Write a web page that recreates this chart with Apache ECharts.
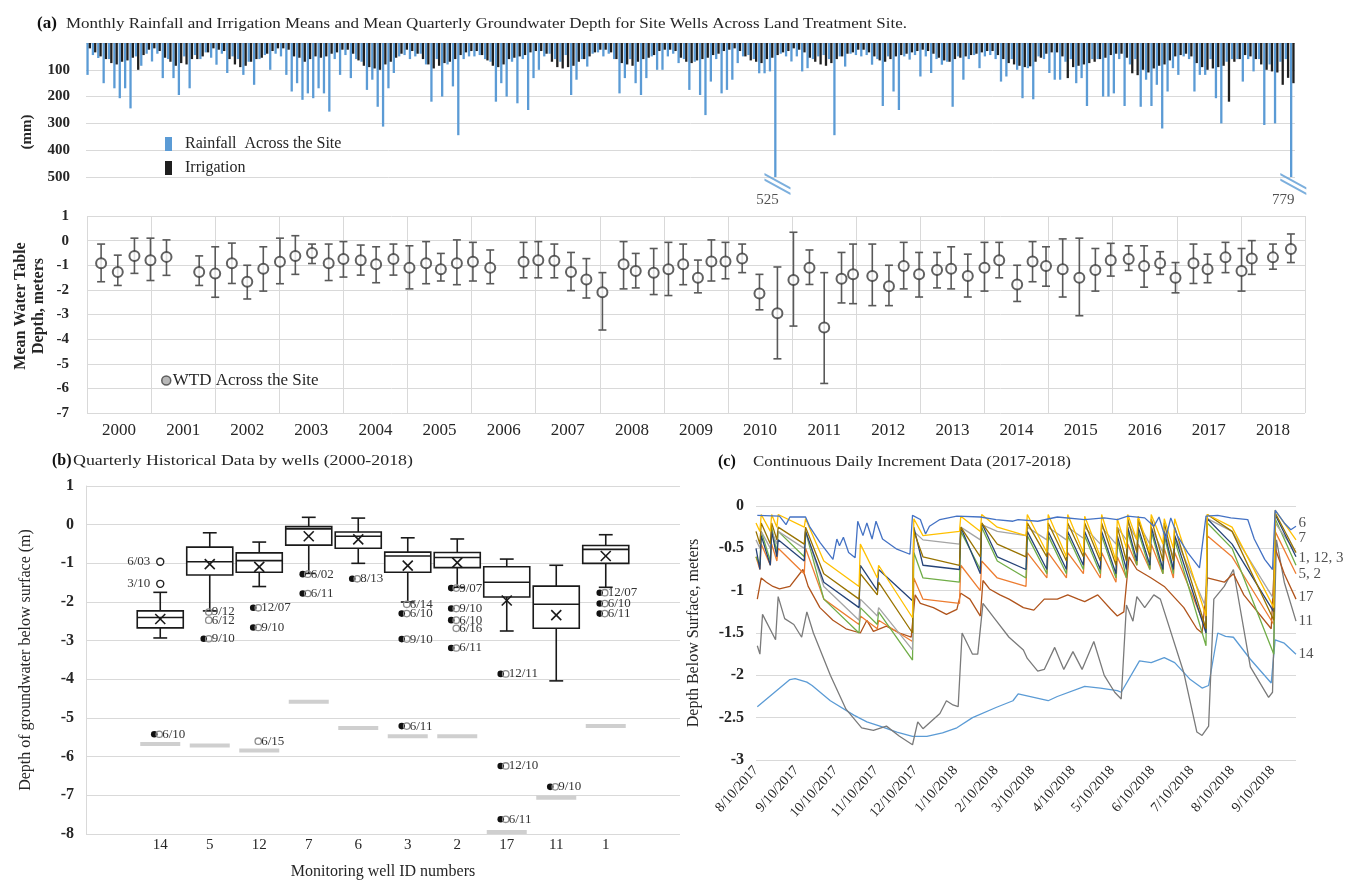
<!DOCTYPE html>
<html><head><meta charset="utf-8">
<script src="https://cdn.jsdelivr.net/npm/echarts@6/dist/echarts.min.js"></script>
<style>html,body{margin:0;padding:0;background:#fff}#c{width:1363px;height:881px}</style>
</head><body><div id="c"></div><script>
// ================= DATA =================
// (a) monthly rainfall (mm), Jan..Dec per year (2018 ends in Sep)
const rain2000 = [119,45,56,150,60,169,206,169,244,50,85,40];
const rain2001 = [69,40,131,60,131,194,50,169,45,60,35,55];
const rain2002 = [81,40,112,50,60,119,70,156,60,45,100,40];
const rain2003 = [50,119,181,150,212,188,206,169,188,256,60,119];
const rain2004 = [45,131,60,70,175,137,238,312,169,112,50,45];
const rain2005 = [60,50,40,80,219,60,200,80,162,344,60,50];
const rain2006 = [50,45,60,70,219,150,200,70,225,60,250,131];
const rain2007 = [100,50,40,60,70,45,194,137,60,88,40,35];
const rain2008 = [50,40,60,188,131,60,150,194,131,50,100,100];
const rain2009 = [50,40,75,60,175,70,194,269,144,60,188,175];
const rain2010 = [137,75,50,45,60,113,113,106,525,40,50,69];
const rain2011 = [50,106,94,60,50,45,60,344,50,88,40,45];
const rain2012 = [50,45,81,60,235,50,181,250,50,62,45,125];
const rain2013 = [50,112,60,81,70,238,50,137,60,45,94,50];
const rain2014 = [45,60,144,125,60,100,206,94,210,50,60,112];
const rain2015 = [137,137,70,60,150,131,235,60,60,200,200,188];
const rain2016 = [60,235,80,60,238,137,235,156,319,181,94,119];
const rain2017 = [50,60,181,119,119,60,206,300,70,60,60,144];
const rain2018 = [60,106,60,306,80,300,70,60,779];
// monthly irrigation (mm)
const irr2000 = [20,35,50,60,75,80,70,65,55,100,45,25];
const irr2001 = [20,30,55,70,85,75,80,60,60,50,35,20];
const irr2002 = [25,30,60,80,90,85,70,60,55,40,30,20];
const irr2003 = [20,25,50,55,70,60,50,55,50,40,35,25];
const irr2004 = [25,40,65,85,90,95,100,80,70,55,40,25];
const irr2005 = [30,40,60,80,95,85,75,70,60,45,35,30];
const irr2006 = [30,45,65,85,90,80,60,55,50,45,35,30];
const irr2007 = [30,40,70,90,95,90,85,70,60,50,35,25];
const irr2008 = [25,35,60,75,80,85,70,60,55,45,30,25];
const irr2009 = [25,30,55,70,75,65,60,55,45,40,30,25];
const irr2010 = [20,30,50,65,70,75,60,55,45,35,30,20];
const irr2011 = [25,35,55,70,80,85,75,60,50,40,35,25];
const irr2012 = [25,35,50,65,70,60,50,45,40,35,30,25];
const irr2013 = [30,40,55,65,70,60,55,50,45,40,35,30];
const irr2014 = [30,45,60,75,80,85,90,87,70,55,40,35];
const irr2015 = [35,50,131,90,85,80,75,70,60,55,45,40];
const irr2016 = [40,55,113,120,100,110,95,85,80,65,50,45];
const irr2017 = [40,50,75,90,100,95,90,85,219,70,60,45];
const irr2018 = [50,60,80,100,106,110,156,130,150];
const yearList = [2000,2001,2002,2003,2004,2005,2006,2007,2008,2009,2010,2011,2012,2013,2014,2015,2016,2017,2018];
const barTicks = [100,200,300,400,500];

// (a) quarterly mean water-table depth (m): sample time (decimal year), mean, whisker low, whisker high
const wtdDate = [2000.22,2000.48,2000.74,2000.99,2001.24,2001.75,2002.00,2002.26,2002.50,2002.75,2003.01,2003.25,2003.51,2003.77,2004.00,2004.27,2004.51,2004.78,2005.03,2005.29,2005.52,2005.77,2006.02,2006.29,2006.81,2007.04,2007.29,2007.55,2007.79,2008.04,2008.37,2008.56,2008.84,2009.07,2009.30,2009.53,2009.74,2009.96,2010.22,2010.49,2010.77,2011.02,2011.27,2011.50,2011.77,2011.95,2012.25,2012.51,2012.74,2012.98,2013.26,2013.48,2013.74,2014.00,2014.23,2014.51,2014.75,2014.96,2015.22,2015.48,2015.73,2015.97,2016.25,2016.49,2016.74,2016.98,2017.26,2017.48,2017.76,2018.01,2018.17,2018.50,2018.78];
const wtdMean = [-0.92,-1.27,-0.62,-0.80,-0.66,-1.27,-1.34,-0.92,-1.67,-1.14,-0.86,-0.62,-0.50,-0.92,-0.75,-0.80,-0.96,-0.75,-1.10,-0.92,-1.16,-0.92,-0.86,-1.10,-0.86,-0.80,-0.82,-1.27,-1.58,-2.10,-0.96,-1.23,-1.30,-1.16,-0.96,-1.51,-0.85,-0.85,-0.73,-2.15,-2.95,-1.60,-1.10,-3.53,-1.55,-1.37,-1.44,-1.85,-1.03,-1.37,-1.19,-1.14,-1.44,-1.10,-0.80,-1.78,-0.85,-1.03,-1.16,-1.51,-1.19,-0.80,-0.75,-1.03,-0.92,-1.51,-0.92,-1.16,-0.68,-1.23,-0.73,-0.68,-0.34];
const wtdLow = [-1.67,-1.82,-1.33,-1.62,-1.41,-1.82,-2.30,-1.74,-2.37,-2.05,-1.75,-1.37,-0.93,-1.62,-1.48,-1.40,-1.71,-1.40,-1.96,-1.75,-1.64,-1.79,-1.64,-1.75,-1.51,-1.51,-1.51,-2.03,-2.33,-3.63,-1.96,-1.92,-2.19,-2.23,-1.79,-2.12,-1.64,-1.55,-1.30,-2.81,-4.80,-3.47,-1.78,-5.80,-2.53,-2.56,-2.64,-2.64,-1.96,-2.29,-1.92,-1.96,-2.29,-2.05,-1.51,-2.47,-1.67,-1.85,-2.29,-3.05,-2.05,-1.44,-1.21,-1.89,-1.37,-2.12,-1.74,-1.71,-1.30,-2.05,-1.37,-1.16,-0.89];
const wtdHigh = [-0.14,-0.59,0.10,0.10,0.03,-0.62,-0.25,-0.10,-1.00,-0.25,0.10,0.20,-0.14,-0.14,-0.04,-0.18,-0.25,-0.14,-0.21,-0.04,-0.52,0.03,-0.07,-0.38,-0.07,-0.04,-0.14,-0.48,-0.73,-1.30,-0.04,-0.52,-0.32,-0.07,-0.14,-0.79,0.03,-0.07,-0.14,-1.37,-1.07,0.34,-0.38,-1.30,-0.48,-0.14,-0.14,-1.00,-0.07,-0.48,-0.48,-0.25,-0.55,-0.07,-0.07,-1.00,-0.04,-0.25,0.07,0.10,-0.32,-0.11,-0.21,-0.21,-0.45,-0.89,-0.14,-0.55,-0.07,-0.32,0.00,-0.14,0.27];

// (b) box plots per monitoring well (depth, m)
const wellIds = ['14','5','12','7','6','3','2','17','11','1'];
const boxWhiskerHigh = [-1.75,-0.21,-0.45,0.19,0.17,-0.34,-0.37,-0.89,-1.05,-0.26];
const boxQ3 = [-2.23,-0.58,-0.73,-0.05,-0.19,-0.71,-0.72,-1.09,-1.59,-0.54];
const boxMedian = [-2.40,-0.96,-0.93,-0.11,-0.30,-0.81,-0.85,-1.49,-2.06,-0.64];
const boxQ1 = [-2.67,-1.30,-1.23,-0.53,-0.61,-1.23,-1.11,-1.87,-2.68,-1.00];
const boxWhiskerLow = [-2.93,-2.23,-1.60,-1.26,-1.00,-2.00,-1.62,-2.75,-4.04,-1.62];
const boxMean = [-2.44,-1.02,-1.09,-0.30,-0.38,-1.06,-0.98,-1.96,-2.34,-0.81];
const wellBottomDepth = [-5.67,-5.71,-5.84,-4.58,-5.26,-5.47,-5.47,-7.95,-7.06,-5.21];
// outliers: well id, depth, date label, marker kind
const outlierWell = ['14','14','14','5','5','5','12','12','12','7','7','6','3','3','3','3','2','2','2','2','2','17','17','17','11','1','1','1'];
const outlierDepth = [-0.96,-1.53,-5.42,-2.26,-2.47,-2.95,-2.15,-2.66,-5.60,-1.28,-1.78,-1.40,-2.06,-2.30,-2.96,-5.21,-1.64,-2.17,-2.47,-2.68,-3.19,-3.86,-6.24,-7.62,-6.78,-1.76,-2.04,-2.30];
const outlierLabel = ['6/03','3/10','6/10','9/12','6/12','9/10','12/07','9/10','6/15','6/02','6/11','8/13','6/14','6/10','9/10','6/11','9/07','9/10','6/10','6/16','6/11','12/11','12/10','6/11','9/10','12/07','6/10','6/11'];
const outlierKind = ['open','open','dot','gray','gray','dot','dot','dot','gray','dot','dot','dot','gray','dot','dot','dot','dot','dot','dot','gray','dot','dot','dot','dot','dot','dot','dot','dot'];

// (c) daily logger data, days since 8/10/2017 and depth (m)
const tickDates = ['8/10/2017','9/10/2017','10/10/2017','11/10/2017','12/10/2017','1/10/2018','2/10/2018','3/10/2018','4/10/2018','5/10/2018','6/10/2018','7/10/2018','8/10/2018','9/10/2018'];
const well6Days = [1,18,23,26,38,41,49,59,62,64,67,71,76,78,82,85,89,92,97,108,118,120,126,130,133,141,154,172,184,197,201,216,231,252,267,277,285,298,305,309,314,318,323,331,340,345,354,364,377,382,390,396,398,405,410,414];
const well6Depth = [-0.11,-0.12,-0.22,-0.13,-0.13,-0.24,-0.43,-0.63,-0.39,-0.47,-0.37,-0.55,-0.61,-0.18,-0.35,-0.2,-0.39,-0.18,-0.39,-0.51,-0.57,-0.11,-0.16,-0.33,-0.24,-0.16,-0.12,-0.13,-0.16,-0.18,-0.16,-0.18,-0.13,-0.16,-0.14,-0.16,-0.12,-0.14,-0.24,-0.13,-0.39,-0.14,-0.35,-0.55,-0.73,-0.12,-0.11,-0.14,-0.16,-0.39,-0.63,-0.75,-0.05,-0.2,-0.28,-0.24];
const well14Days = [1,26,30,39,43,57,75,85,95,108,120,131,143,154,166,184,197,201,224,231,252,264,277,280,294,303,313,321,333,342,347,354,360,366,379,395,398,405,414];
const well14Depth = [-2.37,-2.05,-2.04,-2.08,-2.12,-2.3,-2.47,-2.55,-2.6,-2.67,-2.72,-2.72,-2.68,-2.62,-2.5,-2.38,-2.3,-2.22,-2.3,-2.25,-2.13,-2.15,-2.18,-2.2,-1.83,-1.85,-1.79,-1.85,-2.05,-2.15,-2.12,-1.5,-1.54,-1.55,-1.81,-2.09,-1.58,-1.62,-1.75];
const well11Days = [1,3,5,15,17,22,29,35,39,44,57,69,81,90,100,110,120,124,128,141,146,151,155,158,166,170,174,184,194,205,208,216,221,229,236,243,250,259,267,275,280,284,289,292,298,305,310,328,338,342,347,351,359,366,379,393,396,399,405,414];
const well11Depth = [-1.65,-1.75,-1.28,-1.58,-1.07,-1.33,-1.4,-1.55,-1.25,-1.5,-2.0,-2.4,-2.62,-2.65,-2.6,-2.72,-2.82,-2.55,-2.63,-2.45,-2.3,-2.35,-2.37,-1.5,-1.75,-1.75,-1.15,-1.35,-1.55,-1.7,-1.8,-1.95,-1.93,-1.67,-1.93,-1.72,-1.93,-1.6,-2.0,-2.2,-2.28,-1.17,-1.36,-1.07,-1.2,-1.05,-1.1,-1.97,-2.67,-2.71,-2.6,-1.1,-0.95,-0.75,-1.9,-2.26,-2.2,-0.4,-0.9,-1.36];
const well17Days = [1,4,8,13,18,26,36,40,49,59,69,80,85,90,100,110,119,122,126,136,146,154,157,164,172,174,179,187,194,205,213,221,231,239,247,252,262,272,277,282,286,292,303,313,328,338,342,346,359,366,374,395,398,405,414];
const well17Depth = [-1.1,-0.85,-0.9,-0.95,-0.98,-0.95,-0.75,-0.95,-1.2,-1.35,-1.45,-1.5,-1.35,-1.48,-1.42,-1.5,-1.55,-1.05,-1.15,-1.2,-1.28,-1.22,-1.03,-1.1,-1.3,-0.88,-0.98,-1.05,-1.1,-1.2,-1.23,-1.1,-1.1,-1.05,-1.1,-1.13,-1.05,-1.22,-1.3,-1.25,-0.6,-0.75,-0.85,-0.95,-1.2,-1.45,-1.5,-0.85,-0.9,-0.8,-1.05,-1.45,-0.5,-0.8,-1.1];
// shallow wells read at recharge peaks, along recessions, and just before the next event
const clusterDays = [0,3,4,11,12,16,17,37,38,52,79,80,93,94,120,121,128,156,157,172,173,185,207,208,223,224,238,239,251,252,264,265,276,277,284,285,292,293,302,303,312,313,320,321,345,346,365,397,398,414];
const well7Depth = [-0.2,-0.3,-0.1,-0.3,-0.1,-0.25,-0.1,-0.25,-0.15,-0.65,-0.95,-0.45,-0.85,-0.7,-1.32,-0.15,-0.35,-0.3,-0.12,-0.3,-0.1,-0.25,-0.35,-0.1,-0.55,-0.1,-0.6,-0.1,-0.55,-0.12,-0.6,-0.1,-0.65,-0.15,-0.5,-0.1,-0.4,-0.12,-0.55,-0.1,-0.45,-0.15,-0.5,-0.15,-1.3,-0.1,-0.25,-1.2,-0.05,-0.4];
const well1Depth = [-0.5,-0.75,-0.35,-0.7,-0.3,-0.6,-0.4,-0.65,-0.3,-0.9,-1.2,-0.7,-1.0,-0.75,-1.12,-0.25,-0.7,-0.75,-0.25,-0.8,-0.2,-0.6,-0.75,-0.3,-0.75,-0.3,-0.75,-0.3,-0.7,-0.3,-0.75,-0.3,-0.8,-0.35,-0.75,-0.25,-0.65,-0.25,-0.7,-0.25,-0.75,-0.3,-0.75,-0.35,-1.5,-0.15,-0.45,-1.25,-0.1,-0.6];
const well12Depth = [-0.4,-0.5,-0.3,-0.5,-0.3,-0.45,-0.3,-0.5,-0.3,-0.95,-1.35,-1.1,-1.3,-1.2,-1.7,-0.3,-0.4,-0.45,-0.25,-0.4,-0.22,-0.3,-0.35,-0.25,-0.4,-0.25,-0.4,-0.25,-0.38,-0.25,-0.45,-0.25,-0.45,-0.25,-0.4,-0.2,-0.4,-0.2,-0.45,-0.25,-0.55,-0.3,-0.6,-0.35,-1.2,-0.15,-0.3,-1.1,-0.2,-0.55];
const well3Depth = [-0.3,-0.45,-0.2,-0.45,-0.2,-0.4,-0.25,-0.45,-0.25,-0.8,-1.1,-0.8,-1.05,-0.9,-1.5,-0.3,-0.6,-0.7,-0.25,-0.6,-0.2,-0.45,-0.6,-0.2,-0.6,-0.2,-0.65,-0.2,-0.6,-0.2,-0.65,-0.2,-0.7,-0.25,-0.65,-0.15,-0.55,-0.15,-0.6,-0.15,-0.65,-0.2,-0.65,-0.25,-1.45,-0.1,-0.3,-1.35,-0.08,-0.55];
const well5Depth = [-0.6,-0.7,-0.3,-0.65,-0.25,-0.55,-0.3,-0.6,-0.3,-1.1,-1.5,-1.2,-1.4,-1.25,-1.82,-0.55,-0.85,-0.9,-0.3,-0.75,-0.25,-0.65,-0.85,-0.35,-0.8,-0.35,-0.8,-0.35,-0.75,-0.35,-0.8,-0.35,-0.85,-0.4,-0.85,-0.3,-0.7,-0.3,-0.75,-0.3,-0.8,-0.35,-0.8,-0.4,-1.65,-0.2,-0.5,-1.75,-0.15,-0.7];
const well2Depth = [-0.6,-0.75,-0.45,-0.7,-0.45,-0.65,-0.5,-0.8,-0.5,-1.1,-1.4,-1.3,-1.45,-1.35,-1.6,-0.85,-1.1,-1.15,-0.7,-1.0,-0.65,-0.85,-0.95,-0.55,-0.85,-0.55,-0.85,-0.55,-0.8,-0.55,-0.85,-0.55,-0.9,-0.6,-0.85,-0.45,-0.7,-0.45,-0.75,-0.45,-0.8,-0.5,-0.85,-0.55,-1.45,-0.35,-0.6,-1.4,-0.3,-0.8];
const endLabelText = ['6','7','1, 12, 3','5, 2','17','11','14'];
const endLabelDepth = [-0.2,-0.38,-0.62,-0.8,-1.08,-1.36,-1.75];

// ================= BUILD =================
const FONT = '"Liberation Serif","Times New Roman",serif';
const INK = '#262626';
const GRID = '#d9d9d9';
const rainAll = [rain2000,rain2001,rain2002,rain2003,rain2004,rain2005,rain2006,rain2007,rain2008,rain2009,rain2010,rain2011,rain2012,rain2013,rain2014,rain2015,rain2016,rain2017,rain2018];
const irrAll = [irr2000,irr2001,irr2002,irr2003,irr2004,irr2005,irr2006,irr2007,irr2008,irr2009,irr2010,irr2011,irr2012,irr2013,irr2014,irr2015,irr2016,irr2017,irr2018];
const months = [], rain = [], irr = [];
rainAll.forEach((arr, yi) => arr.forEach((v, mi) => { months.push(yearList[yi] + '-' + (mi + 1)); rain.push(v); irr.push(irrAll[yi][mi]); }));
const barMax = barTicks[barTicks.length - 1];
const capped = rain.map((v, i) => v > barMax ? [i, barMax, v] : null).filter(Boolean);

const wellCats = [''].concat(wellIds, ['']);
const catOf = id => wellIds.indexOf(id) + 1;

const dayOf = s => { const p = s.split('/'); return Date.UTC(+p[2], +p[0] - 1, +p[1]); };
const day0 = dayOf(tickDates[0]);
const tickDays = tickDates.map(s => Math.round((dayOf(s) - day0) / 86400000));
const pairs = (d, v) => d.map((x, i) => [x, v[i]]);

const lineDefs = [
  {name:'14', color:'#5B9BD5', data:pairs(well14Days, well14Depth)},
  {name:'11', color:'#7a7a7a', data:pairs(well11Days, well11Depth)},
  {name:'17', color:'#B0541C', data:pairs(well17Days, well17Depth)},
  {name:'2', color:'#ED7D31', data:pairs(clusterDays, well2Depth)},
  {name:'5', color:'#70AD47', data:pairs(clusterDays, well5Depth)},
  {name:'12', color:'#A5A5A5', data:pairs(clusterDays, well12Depth)},
  {name:'1', color:'#264478', data:pairs(clusterDays, well1Depth)},
  {name:'3', color:'#997300', data:pairs(clusterDays, well3Depth)},
  {name:'7', color:'#FFC000', data:pairs(clusterDays, well7Depth)},
  {name:'6', color:'#4472C4', data:pairs(well6Days, well6Depth)}
];

const axisNum = {fontFamily:FONT, fontSize:15, fontWeight:'bold', color:INK};

function fitScale(text, font, target) {
  const ctx = document.createElement('canvas').getContext('2d');
  ctx.font = font;
  return target / ctx.measureText(text).width;
}
const titleA = 'Monthly Rainfall and Irrigation Means and Mean Quarterly Groundwater Depth for Site Wells Across Land Treatment Site.';
const titleB = 'Quarterly Historical Data by wells (2000-2018)';
const titleC = 'Continuous Daily Increment Data (2017-2018)';
const fA = '14px ' + FONT, fB = '14px ' + FONT;

const chart = echarts.init(document.getElementById('c'), null, {renderer:'canvas'});

const series = [];
// (a) bars
series.push({type:'bar', name:'Rainfall  Across the Site', xAxisIndex:0, yAxisIndex:0, data:rain, barWidth:2.3, barGap:'0%', itemStyle:{color:'#5B9BD5'}});
series.push({type:'bar', name:'Irrigation', xAxisIndex:0, yAxisIndex:0, data:irr, barWidth:2.3, barGap:'0%', itemStyle:{color:'#1f1f1f'}});
series.push({type:'scatter', xAxisIndex:0, yAxisIndex:0, data:capped, silent:true, clip:false, z:5,
  symbol:'path://M0,0 L24,16 L24,18.5 L0,2.5 Z M0,6 L24,22 L24,24.5 L0,8.5 Z', symbolSize:[26,22], symbolOffset:[1,7],
  itemStyle:{color:'#5B9BD5'}});
series.push({type:'scatter', xAxisIndex:0, yAxisIndex:0, data:capped, silent:true, clip:false, symbolSize:1, itemStyle:{color:'transparent'},
  label:{show:true, position:'inside', offset:[-9,23], formatter:p => p.value[2], fontFamily:FONT, fontSize:15, color:INK}});
// (a) WTD error bars and points
series.push({type:'custom', xAxisIndex:1, yAxisIndex:1, silent:true,
  data:wtdDate.map((d, i) => [d, wtdLow[i], wtdHigh[i]]), encode:{x:0, y:[1,2]},
  renderItem:(params, api) => {
    const x = api.value(0);
    const lo = api.coord([x, api.value(1)]), hi = api.coord([x, api.value(2)]);
    const st = {stroke:'#595959', lineWidth:1.6};
    return {type:'group', children:[
      {type:'line', shape:{x1:lo[0], y1:lo[1], x2:hi[0], y2:hi[1]}, style:st},
      {type:'line', shape:{x1:lo[0]-4, y1:lo[1], x2:lo[0]+4, y2:lo[1]}, style:st},
      {type:'line', shape:{x1:hi[0]-4, y1:hi[1], x2:hi[0]+4, y2:hi[1]}, style:st}]};
  }});
series.push({type:'scatter', name:'WTD Across the Site', xAxisIndex:1, yAxisIndex:1, z:4,
  data:wtdDate.map((d, i) => [d, wtdMean[i]]), symbol:'circle', symbolSize:10,
  itemStyle:{color:'#ffffff', borderColor:'#3a3a3a', borderWidth:2}});
// (b) boxes
series.push({type:'custom', xAxisIndex:2, yAxisIndex:2, silent:true, z:3,
  data:wellIds.map((w, i) => [i + 1, boxWhiskerLow[i], boxQ1[i], boxMedian[i], boxQ3[i], boxWhiskerHigh[i], boxMean[i]]),
  encode:{x:0, y:[1,2,3,4,5,6]},
  renderItem:(params, api) => {
    const ci = api.value(0);
    const c = k => api.coord([ci, api.value(k)]);
    const wl = c(1), q1 = c(2), md = c(3), q3 = c(4), wh = c(5), mn = c(6);
    const band = api.size([1, 0])[0];
    const hw = band * 0.465, cw = band * 0.14, x = md[0];
    const st = {stroke:'#1a1a1a', lineWidth:1.6, fill:null};
    return {type:'group', children:[
      {type:'line', shape:{x1:x, y1:wh[1], x2:x, y2:q3[1]}, style:st},
      {type:'line', shape:{x1:x, y1:q1[1], x2:x, y2:wl[1]}, style:st},
      {type:'line', shape:{x1:x-cw, y1:wh[1], x2:x+cw, y2:wh[1]}, style:st},
      {type:'line', shape:{x1:x-cw, y1:wl[1], x2:x+cw, y2:wl[1]}, style:st},
      {type:'rect', shape:{x:x-hw, y:q3[1], width:2*hw, height:q1[1]-q3[1]}, style:{fill:'#ffffff', stroke:'#1a1a1a', lineWidth:1.6}},
      {type:'line', shape:{x1:x-hw, y1:md[1], x2:x+hw, y2:md[1]}, style:st},
      {type:'line', shape:{x1:x-5, y1:mn[1]-5, x2:x+5, y2:mn[1]+5}, style:st},
      {type:'line', shape:{x1:x-5, y1:mn[1]+5, x2:x+5, y2:mn[1]-5}, style:st}]};
  }});
series.push({type:'scatter', xAxisIndex:2, yAxisIndex:2, silent:true,
  data:wellIds.map((w, i) => [i + 1, wellBottomDepth[i]]), symbol:'rect', symbolSize:[40,4], itemStyle:{color:'#c3c3c3'}});
series.push({type:'custom', xAxisIndex:2, yAxisIndex:2, silent:true, z:4,
  data:outlierWell.map((w, i) => [catOf(w), outlierDepth[i]]), encode:{x:0, y:1},
  renderItem:(params, api) => {
    const i = params.dataIndex;
    const p = api.coord([api.value(0), api.value(1)]);
    const kind = outlierKind[i], x = p[0], y = p[1];
    const font = '13px ' + FONT;
    if (kind === 'open') {
      return {type:'group', children:[
        {type:'circle', shape:{cx:x, cy:y, r:3.5}, style:{fill:'#fff', stroke:'#222', lineWidth:1.4}},
        {type:'text', style:{text:outlierLabel[i], x:x-10, y:y, align:'right', verticalAlign:'middle', font:font, fill:'#333'}}]};
    }
    const kids = [];
    if (kind === 'dot') kids.push({type:'circle', shape:{cx:x-6, cy:y, r:3.3}, style:{fill:'#111'}});
    kids.push({type:'circle', shape:{cx:x-1, cy:y, r:3.2}, style:{fill:null, stroke:'#8c8c8c', lineWidth:1.3}});
    kids.push({type:'text', style:{text:outlierLabel[i], x:x+2, y:y, align:'left', verticalAlign:'middle', font:font, fill:'#333'}});
    return {type:'group', children:kids};
  }});
// (c) lines
lineDefs.forEach(d => series.push({type:'line', name:'W' + d.name, xAxisIndex:3, yAxisIndex:3, data:d.data,
  showSymbol:false, silent:true, lineStyle:{width:1.3, color:d.color}, itemStyle:{color:d.color}}));
series.push({type:'scatter', xAxisIndex:3, yAxisIndex:3, silent:true, clip:false, symbolSize:1, itemStyle:{color:'transparent'},
  data:endLabelText.map((t, i) => [tickDays[tickDays.length - 1] + 18, endLabelDepth[i], t]),
  label:{show:true, position:'right', distance:2, formatter:p => p.value[2], fontFamily:FONT, fontSize:15, color:INK}});

const option = {
  animation:false,
  textStyle:{fontFamily:FONT},
  grid:[
    {left:86, top:43, width:1209, height:134},
    {left:87, top:216, width:1218, height:197},
    {left:86, top:486, width:594, height:351},
    {left:756, top:506, width:540, height:254}
  ],
  xAxis:[
    {gridIndex:0, type:'category', data:months, boundaryGap:true, axisLine:{show:false}, axisTick:{show:false}, axisLabel:{show:false}},
    {gridIndex:1, type:'value', min:2000, max:2019, interval:1, axisLine:{show:false}, axisTick:{show:false}, axisLabel:{show:false},
      splitLine:{show:true, lineStyle:{color:GRID}}},
    {gridIndex:2, type:'category', data:wellCats, boundaryGap:true, axisLine:{show:false}, axisTick:{show:false},
      axisLabel:{interval:0, margin:4, fontFamily:FONT, fontSize:15, color:INK},
      name:'Monitoring well ID numbers', nameLocation:'middle', nameGap:30, nameTextStyle:{fontFamily:FONT, fontSize:16, color:INK}},
    {gridIndex:3, type:'value', min:0, max:414, axisLine:{show:false}, axisTick:{show:false}, splitLine:{show:false},
      axisLabel:{customValues:tickDays, rotate:48, margin:8, fontFamily:FONT, fontSize:14, color:INK,
        formatter:v => { const k = tickDays.indexOf(Math.round(v)); return k >= 0 ? tickDates[k] : ''; }}},
    {gridIndex:1, type:'category', data:yearList.map(String), boundaryGap:true, position:'bottom',
      axisLine:{show:false}, axisTick:{show:false}, splitLine:{show:false},
      axisLabel:{margin:9, fontFamily:FONT, fontSize:17, color:INK}}
  ],
  yAxis:[
    {gridIndex:0, type:'value', inverse:true, min:0, max:barMax, interval:100, axisLine:{show:false}, axisTick:{show:false},
      axisLabel:Object.assign({margin:16, formatter:v => v === 0 ? '' : String(v)}, axisNum), splitLine:{lineStyle:{color:GRID}}},
    {gridIndex:1, type:'value', min:-7, max:1, interval:1, axisLine:{show:false}, axisTick:{show:false},
      axisLabel:Object.assign({margin:18}, axisNum), splitLine:{lineStyle:{color:GRID}}},
    {gridIndex:2, type:'value', min:-8, max:1, interval:1, axisLine:{show:true, lineStyle:{color:GRID}}, axisTick:{show:false},
      axisLabel:Object.assign({margin:12}, axisNum, {fontSize:16}), splitLine:{lineStyle:{color:GRID}},
      name:'Depth of groundwater below surface (m)', nameLocation:'middle', nameRotate:90, nameGap:52,
      nameTextStyle:{fontFamily:FONT, fontSize:16, color:INK}},
    {gridIndex:3, type:'value', min:-3, max:0, interval:0.5, axisLine:{show:false}, axisTick:{show:false},
      axisLabel:Object.assign({margin:12}, axisNum, {fontSize:16}), splitLine:{lineStyle:{color:GRID}},
      name:'Depth Below Surface, meters', nameLocation:'middle', nameRotate:90, nameGap:54,
      nameTextStyle:{fontFamily:FONT, fontSize:16, color:INK}}
  ],
  legend:[
    {data:['Rainfall  Across the Site','Irrigation'], orient:'vertical', left:160, top:131, icon:'rect',
      itemWidth:7, itemHeight:14, itemGap:8, selectedMode:false,
      textStyle:{fontFamily:FONT, fontSize:16, color:INK, padding:[0,0,0,8]}},
    {data:[{name:'WTD Across the Site', icon:'circle', itemStyle:{color:'#a6a6a6', borderColor:'#404040', borderWidth:1.5}}],
      left:156, top:367, itemWidth:9, itemHeight:9, selectedMode:false,
      textStyle:{fontFamily:FONT, fontSize:17, color:INK, padding:[0,0,0,-3]}}
  ],
  graphic:[
    {type:'text', x:37, y:24, style:{text:'(a)', font:'bold 17px ' + FONT, fill:'#111', verticalAlign:'middle'}},
    {type:'text', x:66, y:24, scaleX:fitScale(titleA, fA, 841), style:{text:titleA, font:fA, fill:INK, verticalAlign:'middle'}},
    {type:'text', x:52, y:461, style:{text:'(b)', font:'bold 16px ' + FONT, fill:'#111', verticalAlign:'middle'}},
    {type:'text', x:73, y:461, scaleX:fitScale(titleB, fB, 340), style:{text:titleB, font:fB, fill:INK, verticalAlign:'middle'}},
    {type:'text', x:718, y:462, style:{text:'(c)', font:'bold 16px ' + FONT, fill:'#111', verticalAlign:'middle'}},
    {type:'text', x:753, y:462, scaleX:fitScale(titleC, fB, 318), style:{text:titleC, font:fB, fill:INK, verticalAlign:'middle'}},
    {type:'text', x:27, y:132, rotation:Math.PI/2, style:{text:'(mm)', font:'bold 15px ' + FONT, fill:INK, align:'center', verticalAlign:'middle'}},
    {type:'text', x:21, y:306, rotation:Math.PI/2, style:{text:'Mean Water Table', font:'bold 16px ' + FONT, fill:INK, align:'center', verticalAlign:'middle'}},
    {type:'text', x:39, y:306, rotation:Math.PI/2, style:{text:'Depth, meters', font:'bold 16px ' + FONT, fill:INK, align:'center', verticalAlign:'middle'}}
  ],
  series:series
};
chart.setOption(option);
</script></body></html>
